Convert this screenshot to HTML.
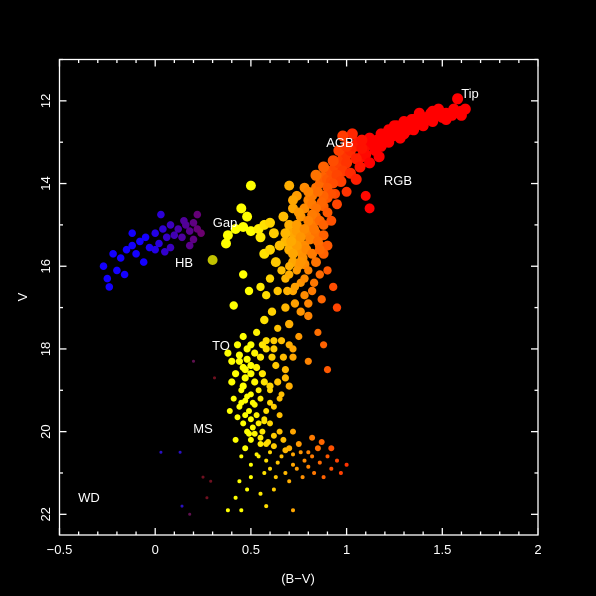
<!DOCTYPE html>
<html><head><meta charset="utf-8">
<style>
html,body{margin:0;padding:0;background:#000;}
svg{display:block;}
text{font-family:"Liberation Sans",sans-serif;fill:#fff;}
</style></head>
<body>
<svg id="chart" width="596" height="596" xmlns="http://www.w3.org/2000/svg">
<rect x="0" y="0" width="596" height="596" fill="#000"/>
<g id="pts"></g>
<g id="axes"></g>
<g id="labels">
<text x="470" y="98" font-size="13" text-anchor="middle">Tip</text>
<text x="340" y="147" font-size="13" text-anchor="middle">AGB</text>
<text x="398" y="185" font-size="13" text-anchor="middle">RGB</text>
<text x="225" y="227" font-size="13" text-anchor="middle">Gap</text>
<text x="184" y="267" font-size="13" text-anchor="middle">HB</text>
<text x="221" y="350" font-size="13" text-anchor="middle">TO</text>
<text x="203" y="433" font-size="13" text-anchor="middle">MS</text>
<text x="89" y="502" font-size="13" text-anchor="middle">WD</text>
</g>
<text x="298" y="583" font-size="13" text-anchor="middle">(B−V)</text>
<text x="27" y="297" font-size="13" text-anchor="middle" transform="rotate(-90 27 297)">V</text>
</svg>
<script>
const giantBV=[1.60,1.62,1.58,1.55,1.52,1.50,1.47,1.45,1.42,1.40,1.38,1.35,1.33,1.30,1.28,1.25,1.22,1.20,1.18,1.15,1.13,1.10,1.08,1.05,1.03,1.00,1.12,1.17,1.07,0.98,1.02,0.95,0.97,0.93,0.90,0.92,0.88,0.85,0.87,0.84,0.82,0.80,0.86,0.78,0.83,0.76,0.81,0.74,0.79,0.72,0.77,0.82,0.75,0.80,0.70,0.78,0.73,0.83,0.70,0.72,0.75,0.67,0.80,0.84,0.88,0.93,0.96,1.00,1.08,0.98,1.05,1.12,1.10,1.00,0.95,0.90,0.88,0.85,0.88,0.90,0.93,0.87,0.95,0.78,0.73,0.80,0.85,0.70,0.75,0.88,0.68,0.66,0.65,0.68,0.63,0.60,0.64,0.61,0.64,0.58,0.62,0.67,0.72,0.80,0.90,1.25,1.35,1.45,0.92,0.86,0.76,0.71,0.69];
const giantV=[12.25,12.2,11.95,12.35,12.3,12.4,12.35,12.5,12.4,12.6,12.5,12.7,12.55,12.8,12.9,12.75,13.0,12.85,13.1,13.2,13.0,13.3,13.15,13.4,12.8,13.5,13.5,13.35,13.6,13.7,13.75,13.8,13.95,14.0,14.1,14.25,14.3,14.2,14.45,14.6,14.75,14.9,14.9,15.1,15.1,15.3,15.35,15.5,15.6,15.7,15.8,15.7,16.0,16.1,16.2,16.3,16.5,16.4,14.05,14.4,14.7,14.8,14.2,13.8,13.6,13.45,13.2,13.1,12.95,12.85,13.9,14.6,14.3,14.2,14.5,14.7,15.0,15.4,15.7,16.1,16.5,16.8,17.0,16.7,16.9,17.2,17.6,17.4,17.7,17.9,17.0,16.1,15.5,15.2,15.9,16.3,16.6,17.1,17.5,17.8,18.0,18.2,18.0,18.3,18.5,12.6,12.45,12.25,14.9,15.6,15.9,15.4,16.6];
const giant2BV=[0.70,0.72,0.74,0.76,0.78,0.80,0.82,0.84,0.86,0.88,0.90,0.92,0.94,0.96,0.98,1.00,1.02,1.04,1.06,1.08,1.10,1.12,1.14,1.16,1.18,1.20,1.22,1.24,1.26,1.28,1.30,1.32,1.34,1.36,1.38,1.40,1.44,1.48,1.52,1.56,1.60,0.68,0.70,0.72,0.74,0.76,0.70,0.68,0.72,0.76,0.74,0.78,0.80,0.82,0.84,0.86,0.84,0.86,0.82,0.80,0.78,0.76,0.74,0.72,0.74,0.78,0.82,0.84,0.88,0.90,0.94,0.96,0.92,0.88,0.90,0.66,0.70,0.72,0.68,0.64,0.66,0.62,0.70];
const giant2V=[15.0,15.2,15.0,14.8,14.6,14.4,14.3,14.1,14.0,13.85,13.9,13.7,13.6,13.5,13.4,13.3,13.2,13.1,13.0,13.35,13.1,12.9,13.05,12.95,12.8,13.0,12.7,12.85,12.6,12.7,12.5,12.7,12.45,12.6,12.3,12.45,12.3,12.2,12.45,12.2,12.35,15.4,15.6,15.9,16.1,16.4,16.0,16.3,16.6,17.1,15.4,15.5,15.2,15.0,15.2,15.5,15.9,16.2,16.6,16.9,15.95,15.65,15.15,14.6,14.3,14.1,14.5,14.8,14.55,14.35,14.25,13.9,13.95,15.25,15.5,17.8,17.9,18.2,18.5,18.8,19.1,19.4,18.9];
const gapBV=[0.42,0.46,0.50,0.54,0.57,0.60,0.62,0.55,0.48,0.45,0.50,0.38,0.37,0.46,0.49,0.58,0.57,0.30,0.41,0.46,0.60,0.55];
const gapV=[15.1,15.05,15.15,15.1,15.0,14.95,15.2,15.3,14.8,14.6,14.05,15.25,15.45,16.2,16.6,16.7,15.7,15.85,16.95,17.7,15.6,16.5];
const hbBV=[-0.25,-0.27,-0.20,-0.22,-0.18,-0.15,-0.12,-0.10,-0.08,-0.05,-0.03,0.00,0.02,0.04,0.06,0.08,0.10,0.12,0.14,0.16,0.18,0.20,0.22,0.24,0.20,0.03,0.08,0.15,-0.24,-0.16,-0.06,0.00,0.22,0.18,-0.12,0.05];
const hbV=[16.3,16.0,16.1,15.7,15.8,15.6,15.5,15.7,15.4,15.3,15.55,15.2,15.45,15.1,15.3,15.0,15.25,15.1,15.3,15.0,15.15,14.95,15.1,15.2,15.35,14.75,15.55,14.9,16.5,16.2,15.9,15.6,14.75,15.5,15.2,15.65];
const msBV=[0.48,0.52,0.44,0.50,0.55,0.58,0.42,0.47,0.52,0.56,0.45,0.50,0.55,0.60,0.44,0.49,0.53,0.58,0.46,0.51,0.56,0.60,0.65,0.62,0.67,0.72,0.70,0.75,0.80,0.85,0.90,0.95,0.78,0.72,0.66,0.60,0.55,0.50,0.63,0.68,0.60,0.65,0.41,0.40,0.38,0.43,0.53,0.57,0.62,1.00,0.97,0.92,0.88,0.83,0.77,0.70,0.63,0.57,0.50,0.45,0.48,0.55,0.42,0.62,0.38,0.45,0.72,0.58,0.47,0.52,0.57,0.49,0.54,0.59,0.82,0.87];
const msV=[18.0,18.1,18.3,18.4,18.2,18.0,18.6,18.7,18.8,18.6,19.0,19.1,19.2,19.0,19.4,19.5,19.6,19.5,19.8,19.9,20.0,19.8,19.6,20.1,20.2,20.0,20.4,20.3,20.5,20.4,20.6,20.7,20.7,20.8,20.6,20.5,20.3,20.2,18.4,18.7,18.9,19.2,19.2,18.3,18.1,17.9,17.6,17.3,17.8,20.8,21.0,20.9,21.1,21.0,21.1,21.2,21.1,21.0,20.8,20.6,21.4,21.5,21.6,21.4,21.9,21.9,21.9,21.8,19.25,19.35,19.75,20.05,20.6,20.25,20.15,20.25];
const ms2BV=[0.44,0.46,0.48,0.50,0.53,0.46,0.48,0.51,0.54,0.57,0.43,0.47,0.50,0.54,0.57,0.60,0.48,0.52,0.55,0.58,0.62,0.65,0.68,0.72,0.76,0.82,0.86,0.92,0.74,0.68,0.64,0.58,0.53,0.47,0.42,0.45,0.40,0.39,0.61,0.56,0.50,0.47,0.60,0.80,0.50,0.44];
const ms2V=[18.15,18.45,18.25,18.6,18.45,18.9,19.15,19.3,19.0,18.8,19.65,19.6,19.7,19.8,19.7,19.3,20.0,20.05,20.15,20.3,20.35,20.0,20.45,20.55,20.5,20.6,20.75,20.4,20.9,21.0,20.75,20.7,20.55,20.4,20.2,19.3,18.8,19.5,18.2,17.9,17.9,18.5,20.9,20.85,21.1,21.2];
const oddBV=[0.20,0.31,0.03,0.13,0.25,0.29,0.27,0.14,0.18];
const oddV=[18.3,18.7,20.5,20.5,21.1,21.2,21.6,21.8,22.0];
const xTicks=[-0.5,0,0.5,1,1.5,2];
const xTickLabels=["\u22120.5","0","0.5","1","1.5","2"];
const yTicks=[12,14,16,18,20,22];
const yTickLabels=["12","14","16","18","20","22"];

const X0=59.5,X1=538,Y0=59.5,Y1=535;
const xmin=-0.5,xmax=2,ymin=11,ymax=22.5;
function sx(b){return X0+(b-xmin)/(xmax-xmin)*(X1-X0);}
function sy(v){return Y0+(v-ymin)/(ymax-ymin)*(Y1-Y0);}
const NS="http://www.w3.org/2000/svg";
function colorFor(b,v,odd){
  if(odd){return b<0.15?"#2a10c0":(b<0.22?"#601050":"#701020");}
  if(b<0.27&&v<17){let t=Math.max(0,Math.min(1,(b+0.05)/0.3));
    return "rgb("+Math.round(20+t*90)+",0,"+Math.round(255-t*150)+")";}
  let h=60-(b-0.5)/(1.12-0.5)*60;h=Math.max(0,Math.min(60,h));
  let l=b<0.36?38:50;
  return "hsl("+h.toFixed(0)+",100%,"+l+"%)";
}
function rFor(v){if(v<14)return 5.5;if(v<16)return 5;if(v<17.5)return 4.2;if(v<19)return 3.6;if(v<20.5)return 3;return 2;}
const g=document.getElementById('pts');
function draw(bvs,vs,odd,rs){
  for(let i=0;i<bvs.length;i++){
    const c=document.createElementNS(NS,'circle');
    c.setAttribute('cx',sx(bvs[i]).toFixed(1));
    c.setAttribute('cy',sy(vs[i]).toFixed(1));
    c.setAttribute('r',odd?1.5:(rs||rFor(vs[i])));
    c.setAttribute('fill',colorFor(bvs[i],vs[i],odd));
    
    
    g.appendChild(c);
  }
}
draw(oddBV,oddV,true);
draw(hbBV,hbV,false,3.8);
draw(msBV,msV,false);
draw(ms2BV,ms2V,false);
draw(gapBV,gapV,false);
draw(giant2BV,giant2V,false);
draw(giantBV,giantV,false);

const ax=document.getElementById('axes');
function line(x1,y1,x2,y2,name){
  const l=document.createElementNS(NS,'line');
  l.setAttribute('x1',x1);l.setAttribute('y1',y1);l.setAttribute('x2',x2);l.setAttribute('y2',y2);
  l.setAttribute('stroke','#fff');l.setAttribute('stroke-width','1.3');
  
  
  ax.appendChild(l);
}
const fr=document.createElementNS(NS,'rect');
fr.setAttribute('x',X0);fr.setAttribute('y',Y0);fr.setAttribute('width',X1-X0);fr.setAttribute('height',Y1-Y0);
fr.setAttribute('fill','none');fr.setAttribute('stroke','#fff');fr.setAttribute('stroke-width','1.3');


ax.appendChild(fr);
for(let k=-5;k<=20;k++){
  const b=k/10,x=sx(b),maj=(k%5===0),L=maj?7:3.5;
  line(x,Y1,x,Y1-L,'x-tick');line(x,Y0,x,Y0+L,'x-tick-top');
}
for(let v=11;v<=22;v++){
  const y=sy(v),maj=(v%2===0),L=maj?7:3.5;
  line(X0,y,X0+L,y,'y-tick');line(X1,y,X1-L,y,'y-tick-right');
}
xTicks.forEach((b,i)=>{
  const t=document.createElementNS(NS,'text');
  t.setAttribute('x',sx(b));t.setAttribute('y',554);t.setAttribute('font-size','13');t.setAttribute('text-anchor','middle');
  t.textContent=xTickLabels[i];
  
  
  ax.appendChild(t);
});
yTicks.forEach((v,i)=>{
  const t=document.createElementNS(NS,'text');
  const x=50,y=sy(v);
  t.setAttribute('x',x);t.setAttribute('y',y);t.setAttribute('font-size','13');t.setAttribute('text-anchor','middle');
  t.setAttribute('transform','rotate(-90 '+x+' '+y+')');
  t.textContent=yTickLabels[i];
  
  
  ax.appendChild(t);
});
</script>
</body></html>
